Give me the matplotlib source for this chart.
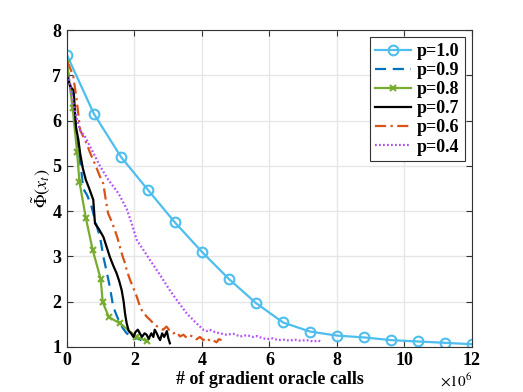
import matplotlib
matplotlib.use("Agg")
import matplotlib.pyplot as plt
import numpy as np

# p = 1.0
x10 = [0, 0.8, 1.6, 2.4, 3.2, 4.0, 4.8, 5.6, 6.4, 7.2, 8.0, 8.8, 9.6, 10.4, 11.2, 12.0]
y10 = [7.45, 6.15, 5.2, 4.47, 3.75, 3.1, 2.5, 1.97, 1.54, 1.34, 1.25, 1.21, 1.15, 1.12, 1.09, 1.06]

# p = 0.9
x09 = [0, 0.08, 0.15, 0.22, 0.3, 0.38, 0.43, 0.48, 0.6, 0.73, 0.85, 0.98, 1.08, 1.18, 1.27, 1.37, 1.47, 1.57, 1.67, 1.77, 1.92, 2.02, 2.12, 2.2]
y09 = [7.2, 6.9, 6.55, 6.1, 5.6, 5.15, 4.87, 4.5, 4.35, 4.1, 3.75, 3.43, 2.99, 2.65, 2.33, 1.89, 1.7, 1.52, 1.4, 1.3, 1.23, 1.18, 1.2, 1.14]

# p = 0.8
x08 = [0, 0.17, 0.3, 0.37, 0.56, 0.76, 1.0, 1.06, 1.24, 1.57, 2.05, 2.38]
y08 = [7.28, 6.27, 5.31, 4.65, 3.85, 3.15, 2.5, 1.99, 1.66, 1.52, 1.23, 1.12]

# p = 0.7
x07 = [0, 0.1, 0.2, 0.23, 0.27, 0.34, 0.39, 0.47, 0.56, 0.66, 0.78, 0.83, 0.95, 1.08, 1.18, 1.27, 1.37, 1.47, 1.55, 1.62, 1.68, 1.72, 1.77,
       1.83, 1.9, 1.97, 2.03, 2.1, 2.16, 2.22, 2.3, 2.36, 2.42, 2.5, 2.56, 2.6, 2.66, 2.72, 2.76, 2.82, 2.88, 2.96, 3.0, 3.05]
y07 = [7.0, 6.75, 6.67, 6.27, 5.85, 5.57, 5.28, 4.95, 4.69, 4.5, 4.25, 3.73, 3.6, 3.43, 3.2, 2.99, 2.8, 2.63, 2.45, 2.26, 2.0, 1.74, 1.52,
       1.35, 1.3, 1.22, 1.33, 1.38, 1.3, 1.22, 1.3, 1.27, 1.18, 1.3, 1.22, 1.38, 1.3, 1.2, 1.15, 1.3, 1.22, 1.35, 1.2, 1.08]

# p = 0.6
x06 = [0, 0.1, 0.19, 0.29, 0.39, 0.5, 0.58, 0.68, 0.78, 0.88, 0.98, 1.08, 1.15, 1.22, 1.32, 1.42, 1.5, 1.57, 1.65, 1.72, 1.77, 1.87, 1.97, 2.07,
       2.14, 2.21, 2.29, 2.36, 2.46, 2.56, 2.66, 2.76, 2.85, 2.95, 3.05, 3.15, 3.25, 3.35, 3.45, 3.55, 3.65, 3.74, 3.84, 3.94, 4.04, 4.14, 4.24, 4.33, 4.43, 4.5, 4.58]
y06 = [7.3, 7.15, 6.97, 6.45, 5.79, 5.62, 5.5, 5.3, 5.13, 4.95, 4.76, 4.6, 4.25, 3.95, 3.78, 3.58, 3.4, 3.21, 3.0, 2.85, 2.7, 2.48, 2.3, 2.11,
       1.95, 1.82, 1.74, 1.67, 1.6, 1.52, 1.46, 1.41, 1.38, 1.45, 1.35, 1.3, 1.33, 1.23, 1.27, 1.2, 1.25, 1.23, 1.17, 1.22, 1.15, 1.2, 1.13, 1.15, 1.1, 1.17, 1.15]

# p = 0.4
x04 = [0, 0.07, 0.15, 0.25, 0.39, 0.54, 0.74, 0.99, 1.23, 1.53, 1.77, 1.93, 2.07, 2.26, 2.46, 2.75, 3.05, 3.25, 3.55, 3.84, 4.04, 4.14, 4.23, 4.38,
       4.53, 4.73, 4.93, 5.13, 5.33, 5.52, 5.62, 5.77, 5.92, 6.1, 6.25, 6.41, 6.6, 6.75, 6.9, 7.1, 7.3, 7.45, 7.55]
y04 = [7.0, 6.89, 6.53, 6.16, 5.79, 5.64, 5.35, 4.98, 4.69, 4.39, 4.05, 3.7, 3.36, 3.15, 2.92, 2.6, 2.25, 2.04, 1.74, 1.52, 1.38, 1.35, 1.38, 1.33,
       1.3, 1.27, 1.29, 1.23, 1.26, 1.22, 1.24, 1.2, 1.17, 1.19, 1.15, 1.16, 1.14, 1.16, 1.14, 1.15, 1.12, 1.14, 1.11]

plt.rcParams['font.family'] = ['Liberation Serif', 'DejaVu Serif']
plt.rcParams['mathtext.fontset'] = 'stix'

fig = plt.figure(figsize=(5.23, 3.92), dpi=100)
ax = fig.add_axes([0.128, 0.115, 0.7745, 0.808])

lw = 1.6
ax.plot(x10, y10, color='#4DBEEE', lw=lw, marker='o', ms=7, mfc='none', mew=1.5, label='p=1.0')
ax.plot(x09, y09, color='#0072BD', lw=lw, ls=(0, (5, 3)), label='p=0.9')
ax.plot(x08, y08, color='#77AC30', lw=lw, marker='x', ms=5, mew=1.5, label='p=0.8')
ax.plot(x07, y07, color='black', lw=lw, label='p=0.7')
ax.plot(x06, y06, color='#D95319', lw=lw, ls=(0, (5, 2, 1, 2)), label='p=0.6')
ax.plot(x04, y04, color='#B34DFF', lw=lw, ls=(0, (0.8, 1.0)), label='p=0.4')

ax.set_xlim(0, 12)
ax.set_ylim(1, 8)
ax.set_xticks([0, 2, 4, 6, 8, 10, 12])
ax.set_yticks([1, 2, 3, 4, 5, 6, 7, 8])
ax.grid(True, color='#e6e6e6', lw=1)
ax.set_axisbelow(True)
ax.tick_params(direction='in', length=4, top=True, right=True, labelsize=13, pad=4, color='#333333')
for lab in ax.get_xticklabels() + ax.get_yticklabels():
    lab.set_fontweight('bold')
for s in ax.spines.values():
    s.set_color('#333333')
    s.set_linewidth(0.8)

ax.set_xlabel('# of gradient oracle calls', fontsize=13, fontweight='bold', labelpad=1)
ax.set_ylabel(r'$\tilde{\Phi}(x_t)$', fontsize=13, labelpad=0)
ax.text(1.0, -0.08, r'$\times 10^6$', transform=ax.transAxes, ha='right', va='top', fontsize=11)

leg = ax.legend(loc='upper right', prop={'weight': 'bold', 'size': 13}, frameon=True, fancybox=False,
                edgecolor='#333333', framealpha=1, borderpad=0.3, labelspacing=0.12, handlelength=2.0, handletextpad=0.3,
                borderaxespad=0.4)
leg.get_frame().set_linewidth(0.8)

fig.savefig('out.png', dpi=100)
